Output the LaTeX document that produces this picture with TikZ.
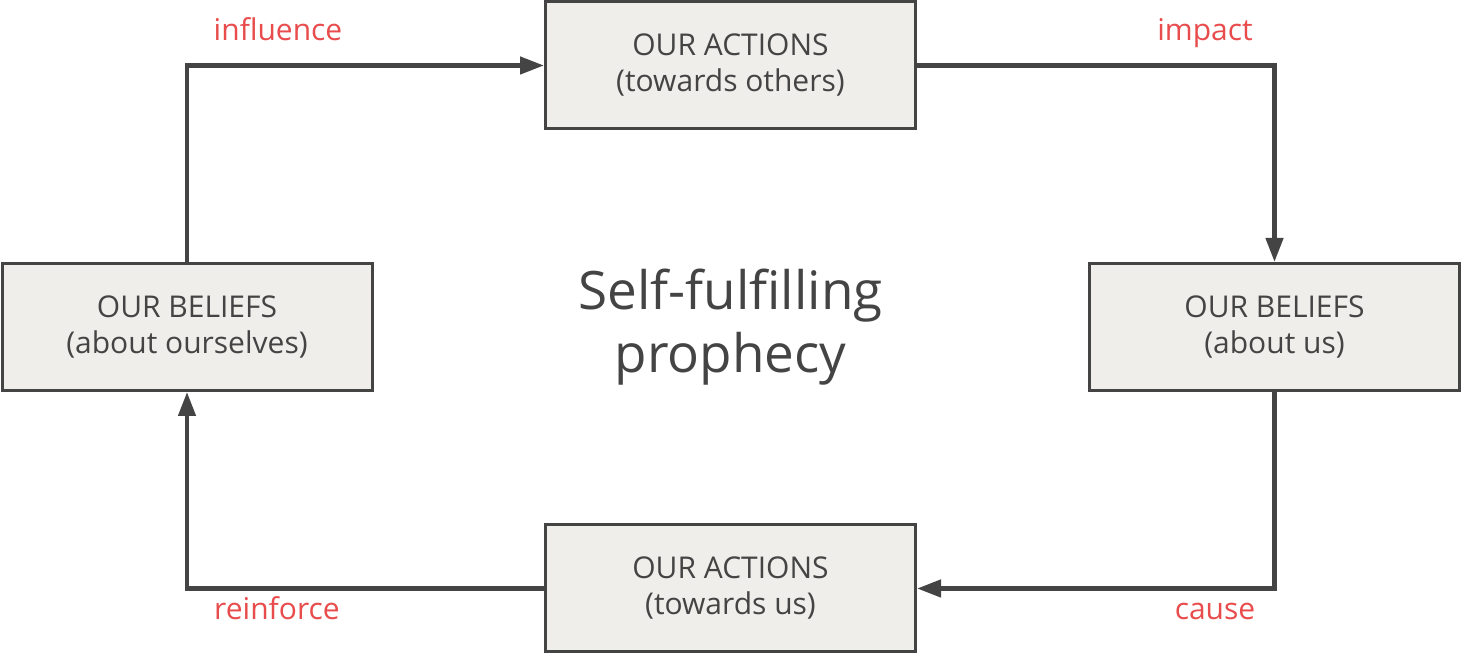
\documentclass[tikz,border=0pt]{standalone}
\usepackage{fontspec}
\setmainfont{Open Sans}
\usetikzlibrary{arrows.meta}
\definecolor{ink}{HTML}{444444}
\definecolor{boxfill}{HTML}{EFEEEB}
\definecolor{lab}{HTML}{E84C4C}
\begin{document}
\begin{tikzpicture}[x=1pt,y=1pt,
  stage/.style={draw=ink,line width=3pt,fill=boxfill,minimum width=370pt,minimum height=127pt,
    inner sep=0pt,align=center,text=ink,font=\fontsize{30}{36}\selectfont},
  conn/.style={draw=ink,line width=4.5pt,-{Triangle[length=24pt,width=17pt]}},
  lbl/.style={text=lab,font=\fontsize{30}{32}\selectfont,inner sep=0pt,anchor=base}]
\useasboundingbox (0,0) rectangle (1462,655);
\node[stage] (top) at (730.5,589.5) {OUR ACTIONS\\(towards others)};
\node[stage] (left) at (187,328) {OUR BELIEFS\\(about ourselves)};
\node[stage] (right) at (1274.5,328) {OUR BELIEFS\\(about us)};
\node[stage] (bot) at (730.5,66.5) {OUR ACTIONS\\(towards us)};
\node[text=ink,align=center,font=\fontsize{53}{63}\selectfont] (title) at (730.5,328) {Self-fulfilling\\prophecy};
\draw[conn] (left.north) |- (top.west);
\draw[conn] (top.east) -| (right.north);
\draw[conn] (right.south) |- (bot.east);
\draw[conn] (bot.west) -| (left.south);
\node[lbl] (l1) at (278,614) {influence};
\node[lbl] (l2) at (1205,614) {impact};
\node[lbl] (l3) at (277,35) {reinforce};
\node[lbl] (l4) at (1215,35) {cause};
\end{tikzpicture}
\end{document}
